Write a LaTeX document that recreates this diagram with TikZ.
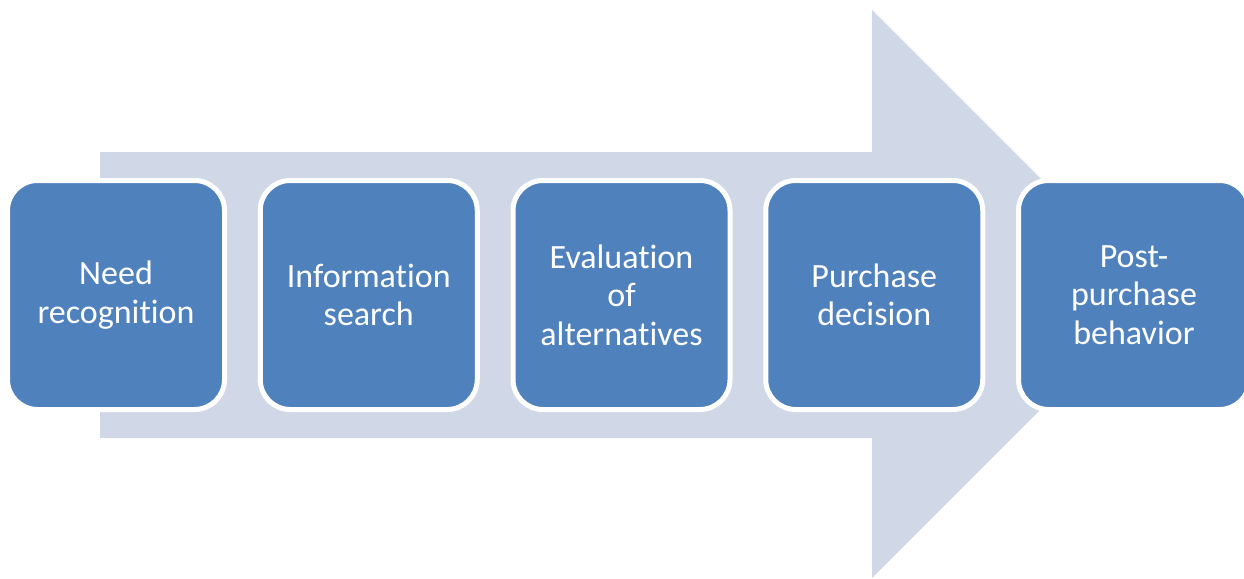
\documentclass[tikz,border=0pt]{standalone}
\usepackage{fontspec}
\setmainfont[Ligatures={NoCommon}]{Carlito}
\definecolor{boxblue}{HTML}{4F81BD}
\definecolor{arrowbg}{HTML}{D0D8E8}
\begin{document}
\begin{tikzpicture}[x=1pt,y=-1pt,
  stagebox/.style={rectangle, rounded corners=30pt, draw=white, line width=5pt,
    fill=boxblue, text=white, inner sep=0pt, minimum height=229pt,
    align=center, font=\fontsize{34}{38.5}\selectfont}]
\useasboundingbox (0,0) rectangle (1244,578);
\fill[arrowbg] (100,152) -- (872,152) -- (872,10) -- (1156,294) -- (872,578) -- (872,438) -- (100,438) -- cycle;
\node[stagebox, minimum width=217pt] (b1) at (116,295) {Need\\recognition};
\node[stagebox, minimum width=217pt] (b2) at (368.75,295) {Information\\search};
\node[stagebox, minimum width=217pt] (b3) at (621.5,295) {Evaluation\\of\\alternatives};
\node[stagebox, minimum width=217pt] (b4) at (874.25,295) {Purchase\\decision};
\node[stagebox, minimum width=231pt] (b5) at (1134,295) {Post-\\purchase\\behavior};
\end{tikzpicture}
\end{document}
